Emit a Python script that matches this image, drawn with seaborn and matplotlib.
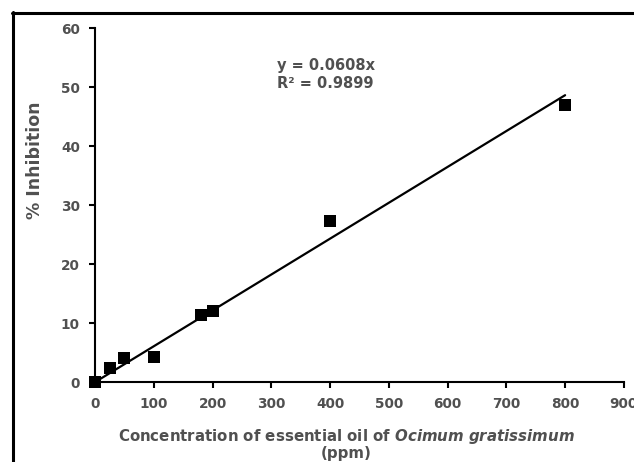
import numpy as np
import pandas as pd
import matplotlib
matplotlib.use("Agg")
import matplotlib.pyplot as plt
from matplotlib.lines import Line2D
import seaborn as sns

# ── data ────────────────────────────────────────────────
conc = [0, 25, 50, 100, 180, 200, 400, 800]          # ppm
inhibition = [0, 2.4, 4.0, 4.2, 11.3, 12.0, 27.3, 47.0]  # %
slope = 0.0608
r2 = 0.9899
fit_x = [0, 800]

sns.set_theme(style="ticks")
plt.rcParams["font.family"] = ["DejaVu Sans"]
plt.rcParams["mathtext.fontset"] = "custom"
plt.rcParams["mathtext.bfit"] = "DejaVu Sans:italic:bold"
plt.rcParams["mathtext.rm"] = "DejaVu Sans:bold"

grey = "#505050"

df = pd.DataFrame({"conc": conc, "inhibition": inhibition})
fit = pd.DataFrame({"x": fit_x, "y": [slope * v for v in fit_x]})

fig = plt.figure(figsize=(6.34, 4.62), dpi=100)
ax = fig.add_axes([0.150, 0.173, 0.834, 0.766])

sns.lineplot(data=fit, x="x", y="y", ax=ax, color="black", lw=1.6)
sns.scatterplot(data=df, x="conc", y="inhibition", ax=ax, marker="s",
                s=75, color="black", edgecolor="black", linewidth=0,
                clip_on=False, zorder=5)

ax.set_xlim(0, 900)
ax.set_ylim(0, 60)
ax.set_xticks(range(0, 901, 100))
ax.set_yticks(range(0, 61, 10))
sns.despine(ax=ax)
for s in ["left", "bottom"]:
    ax.spines[s].set_linewidth(1.5)
    ax.spines[s].set_color("black")
ax.tick_params(length=4, width=1.5, colors="black", labelcolor=grey,
               labelsize=9.8, pad=7)
for lab in ax.get_xticklabels() + ax.get_yticklabels():
    lab.set_fontweight("bold")

ax.set_ylabel("% Inhibition", fontsize=12.5, fontweight="bold", color=grey)
ax.yaxis.label.set_va("center")
ax.yaxis.set_label_coords(-0.113, 0.627)
ax.set_xlabel("Concentration of essential oil of $\\mathbfit{Ocimum\\ gratissimum}$\n(ppm)",
              fontsize=10.8, fontweight="bold", color=grey, linespacing=1.0)
ax.xaxis.set_label_coords(0.475, -0.128)
ax.xaxis.label.set_va("top")

ax.text(310, 53.6, f"y = {slope}x", fontsize=10.5, fontweight="bold",
        color=grey, va="center")
ax.text(310, 50.6, f"R² = {r2}", fontsize=10.5, fontweight="bold",
        color=grey, va="center")

# black frame around the figure (cropped on right/bottom)
fig.add_artist(Line2D([12 / 634, 1.0], [1 - 12.5 / 462] * 2, color="black",
                      lw=2.2, transform=fig.transFigure))
fig.add_artist(Line2D([12.5 / 634] * 2, [0, 1 - 12 / 462], color="black",
                      lw=2.2, transform=fig.transFigure))

fig.savefig("out.png", dpi=100)
